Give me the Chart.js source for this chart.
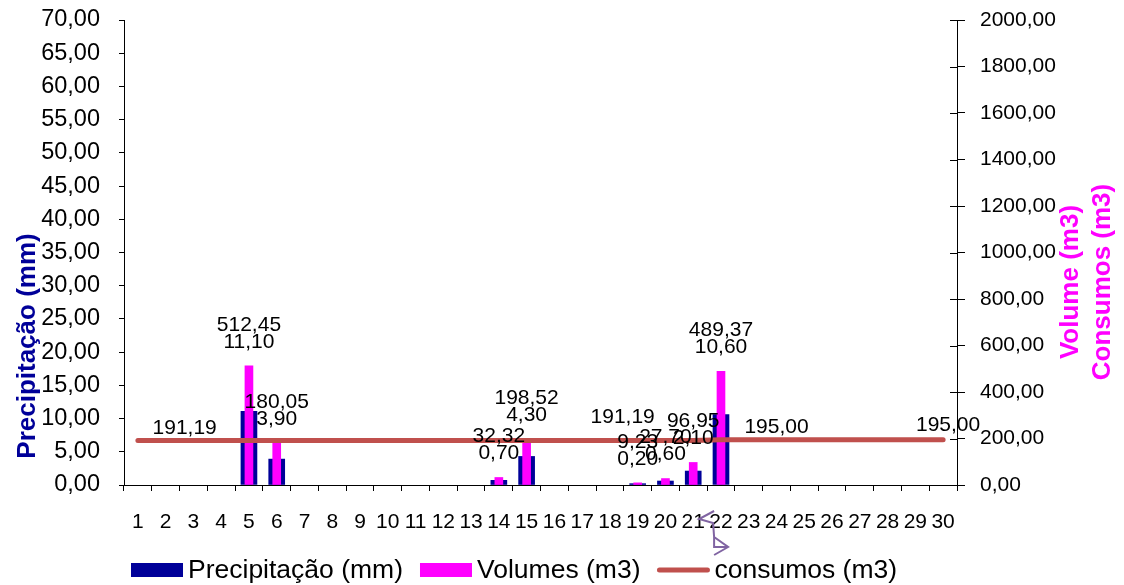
<!DOCTYPE html>
<html>
<head>
<meta charset="utf-8">
<script src="https://cdn.jsdelivr.net/npm/chart.js@4.4.1/dist/chart.umd.min.js"></script>
<style>
  html, body { margin: 0; padding: 0; background: #ffffff; }
  #wrap { width: 1124px; height: 585px; position: relative; }
</style>
</head>
<body>
<div id="wrap"><canvas id="c" width="1124" height="585"></canvas></div>
<script>
// ---- data ----
const days = ['1','2','3','4','5','6','7','8','9','10','11','12','13','14','15','16','17','18','19','20','21','22','23','24','25','26','27','28','29','30'];
const precipitacao = [0,0,0,0,11.10,3.90,0,0,0,0,0,0,0,0.70,4.30,0,0,0,0.20,0.60,2.10,10.60,0,0,0,0,0,0,0,0];
const volumes = [0,0,0,0,512.45,180.05,0,0,0,0,0,0,0,32.32,198.52,0,0,0,9.23,27.70,96.95,489.37,0,0,0,0,0,0,0,0];
const consumos = [191.19,191.19,191.19,191.19,191.19,191.19,191.19,191.19,191.19,191.19,191.19,191.19,191.19,191.19,191.19,191.19,191.19,191.19,191.19,191.19,191.19,195.00,195.00,195.00,195.00,195.00,195.00,195.00,195.00,195.00];
const consumoLabelDays = ['2','19','24','30'];
const leftTicks = { min: 0, max: 70, step: 5 };
const rightTicks = { min: 0, max: 2000, step: 200 };
const seriesNames = ['Precipitação (mm)', 'Volumes (m3)', 'consumos (m3)'];
const leftTitle = 'Precipitação (mm)';
const rightTitles = ['Volume (m3)', 'Consumos (m3)'];

const FONT = "'Liberation Sans', Arial, sans-serif";
const fmt = v => v.toFixed(2).replace('.', ',');
const noZero = arr => arr.map(v => (v === 0 ? null : v));

const NAVY = '#000099', MAGENTA = '#FF00FF', RED = '#C0504D', PURPLE = '#8064A2';

const extrasPlugin = {
  id: 'extras',
  afterDatasetsDraw(chart) {
    const ctx = chart.ctx;
    const ca = chart.chartArea;
    const yR = chart.scales.y1;
    // inward tick marks on right axis
    ctx.save();
    ctx.strokeStyle = '#000';
    ctx.lineWidth = 1;
    for (let v = rightTicks.min; v <= rightTicks.max; v += rightTicks.step) {
      const py = Math.round(yR.getPixelForValue(v)) + 0.5;
      ctx.beginPath();
      ctx.moveTo(ca.right - 7, py);
      ctx.lineTo(ca.right, py);
      ctx.stroke();
    }
    ctx.restore();

    // data labels for bars
    const mV = chart.getDatasetMeta(1), mL = chart.getDatasetMeta(2);
    ctx.save();
    ctx.font = '21px ' + FONT;
    ctx.fillStyle = '#000';
    ctx.textAlign = 'center';
    ctx.textBaseline = 'middle';
    precipitacao.forEach((p, i) => {
      if (!p) return;
      const el = mV.data[i];
      ctx.fillText(fmt(volumes[i]), el.x, el.y - 41);
      ctx.fillText(fmt(p), el.x, el.y - 24);
    });
    // line labels
    const offs = { '2': [19, -12], '19': [-15, -23], '24': [0, -12], '30': [5, -14] };
    consumoLabelDays.forEach(d => {
      const i = days.indexOf(d);
      const el = mL.data[i];
      const o = offs[d] || [0, -12];
      ctx.fillText(fmt(consumos[i]), el.x + o[0], el.y + o[1]);
    });
    ctx.restore();
  },
  afterDraw(chart) {
    const ctx = chart.ctx;
    // axis titles
    ctx.save();
    ctx.font = 'bold 26px ' + FONT;
    ctx.textAlign = 'center';
    ctx.textBaseline = 'middle';
    ctx.fillStyle = NAVY;
    ctx.translate(28, 346);
    ctx.rotate(-Math.PI / 2);
    ctx.fillText(leftTitle, 0, 0);
    ctx.restore();

    ctx.save();
    ctx.font = 'bold 26px ' + FONT;
    ctx.textAlign = 'center';
    ctx.textBaseline = 'middle';
    ctx.fillStyle = MAGENTA;
    [[1071, rightTitles[0]], [1103, rightTitles[1]]].forEach(([x, t]) => {
      ctx.save();
      ctx.translate(x, 282);
      ctx.rotate(-Math.PI / 2);
      ctx.fillText(t, 0, 0);
      ctx.restore();
    });
    ctx.restore();

    // legend
    ctx.save();
    ctx.font = '26.5px ' + FONT;
    ctx.textBaseline = 'middle';
    ctx.textAlign = 'left';
    let x = 131;
    const ly = 570;
    chart.data.datasets.forEach((ds, k) => {
      if (k < 2) {
        ctx.fillStyle = ds.backgroundColor;
        ctx.fillRect(x, ly - 7, 52, 14);
      } else {
        ctx.strokeStyle = ds.borderColor;
        ctx.lineWidth = 5;
        ctx.lineCap = 'round';
        ctx.beginPath();
        ctx.moveTo(x + 2, ly);
        ctx.lineTo(x + 50, ly);
        ctx.stroke();
      }
      x += 57;
      ctx.fillStyle = '#000';
      ctx.fillText(ds.label, x, ly + 1);
      x += ctx.measureText(ds.label).width + 17;
    });
    ctx.restore();

    // small purple decoration near x labels 21/22
    const xs = chart.scales.x;
    const bx = (xs.getPixelForValue(20) + xs.getPixelForValue(21)) / 2;
    ctx.save();
    ctx.strokeStyle = PURPLE;
    ctx.lineWidth = 2;
    ctx.beginPath();
    ctx.moveTo(bx + 7, 511);
    ctx.lineTo(bx - 8, 519);
    ctx.lineTo(bx + 6, 523);
    ctx.lineTo(bx + 7, 537);
    ctx.lineTo(bx + 21, 547);
    ctx.lineTo(bx + 7, 555);
    ctx.moveTo(bx + 7, 537);
    ctx.lineTo(bx + 7, 547);
    ctx.lineTo(bx + 21, 547);
    ctx.stroke();
    ctx.restore();
  }
};

const noPad = s => { s.paddingTop = 0; s.paddingBottom = 0; s.paddingLeft = 0; s.paddingRight = 0; };

new Chart(document.getElementById('c'), {
  type: 'bar',
  data: {
    labels: days,
    datasets: [
      {
        label: seriesNames[0],
        data: noZero(precipitacao),
        yAxisID: 'y',
        backgroundColor: NAVY,
        barThickness: 16,
        grouped: false,
        order: 2
      },
      {
        label: seriesNames[1],
        data: noZero(volumes),
        yAxisID: 'y1',
        backgroundColor: MAGENTA,
        barThickness: 8,
        grouped: false,
        order: 1
      },
      {
        type: 'line',
        label: seriesNames[2],
        data: consumos,
        yAxisID: 'y1',
        borderColor: RED,
        backgroundColor: RED,
        borderWidth: 5,
        borderCapStyle: 'round',
        pointRadius: 0,
        tension: 0,
        order: 0
      }
    ]
  },
  options: {
    responsive: false,
    animation: false,
    devicePixelRatio: 1,
    layout: { padding: { top: 20, left: 0, right: 0, bottom: 0 } },
    plugins: {
      legend: { display: false },
      tooltip: { enabled: false }
    },
    scales: {
      x: {
        offset: true,
        grid: { display: true, drawOnChartArea: false, offset: true, tickLength: 6, color: '#000' },
        border: { display: true, color: '#000' },
        ticks: { font: { family: FONT, size: 21 }, color: '#000', padding: 19, maxRotation: 0, autoSkip: false },
        afterFit(s) { s.height = 100; noPad(s); }
      },
      y: {
        position: 'left',
        min: leftTicks.min, max: leftTicks.max,
        grid: { display: true, drawOnChartArea: false, tickLength: 5, color: '#000' },
        border: { display: true, color: '#000' },
        ticks: { stepSize: leftTicks.step, font: { family: FONT, size: 23.5 }, color: '#000', padding: 19, callback: v => fmt(v) },
        afterFit(s) { s.width = 124; noPad(s); }
      },
      y1: {
        position: 'right',
        min: rightTicks.min, max: rightTicks.max,
        grid: { display: true, drawOnChartArea: false, tickLength: 8, color: '#000' },
        border: { display: true, color: '#000' },
        ticks: { stepSize: rightTicks.step, font: { family: FONT, size: 21 }, color: '#000', padding: 15, callback: v => fmt(v) },
        afterFit(s) { s.width = 167; noPad(s); }
      }
    }
  },
  plugins: [extrasPlugin]
});
</script>
</body>
</html>
